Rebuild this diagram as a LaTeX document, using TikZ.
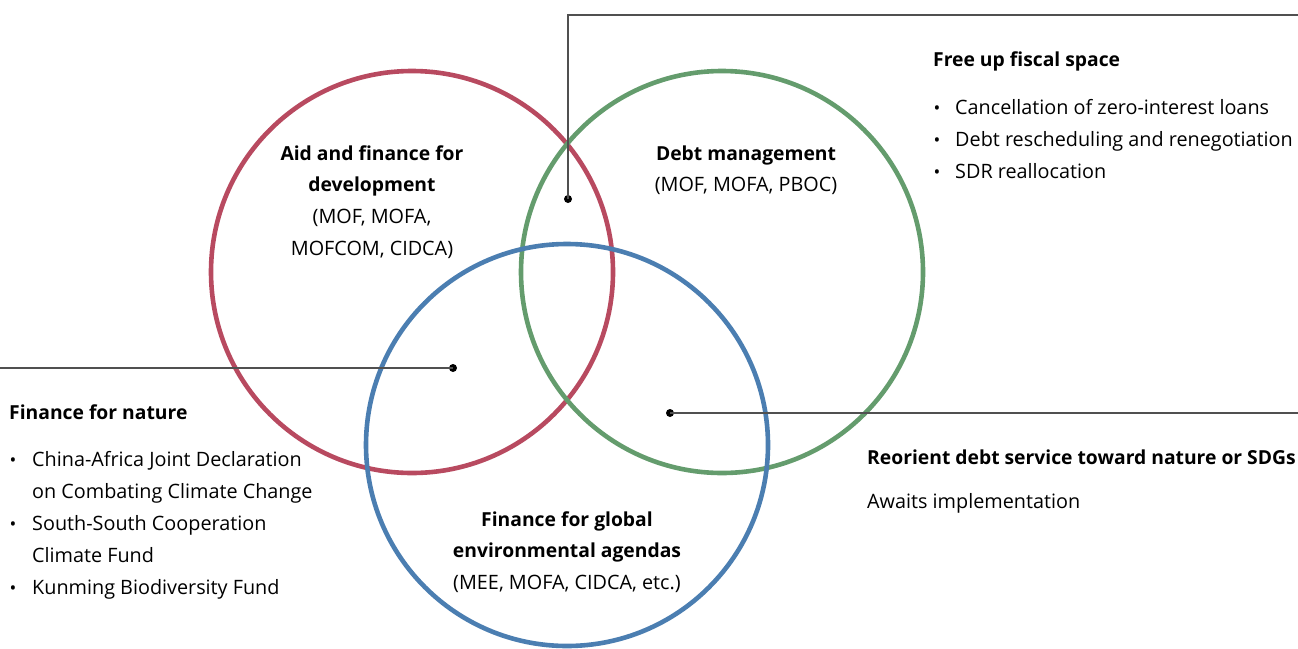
\documentclass[tikz,border=0pt]{standalone}
\usepackage{fontspec}
\setmainfont{Open Sans}[Ligatures=NoCommon]
\definecolor{cred}{HTML}{B84A60}
\definecolor{cgreen}{HTML}{649C6D}
\definecolor{cblue}{HTML}{4B7EB1}
\definecolor{clead}{HTML}{505050}
\begin{document}
\begin{tikzpicture}[x=1pt,y=-1pt]
\tikzset{
  ring/.style={circle, draw, line width=4.6pt, minimum size=402pt, inner sep=0pt},
  lead/.style={draw=clead, line width=1.3pt},
  dotn/.style={circle, fill=black, inner sep=0pt, minimum size=8pt},
  ttl/.style={font=\fontsize{19.3}{22}\selectfont\bfseries, inner sep=0pt, anchor=base west},
  txt/.style={font=\fontsize{19.8}{22}\selectfont, inner sep=0pt, anchor=base west},
  cttl/.style={font=\fontsize{19.3}{22}\selectfont\bfseries, inner sep=0pt, anchor=base},
  ctxt/.style={font=\fontsize{19.8}{22}\selectfont, inner sep=0pt, anchor=base},
  bul/.style={font=\fontsize{18}{20}\selectfont, inner sep=0pt, anchor=base}
}
\useasboundingbox (0,0) rectangle (1298,648);
% circles
\node[ring, draw=cred] (red) at (412,272) {};
\node[ring, draw=cgreen] (green) at (722,272) {};
\node[ring, draw=cblue] (blue) at (567,445) {};
% leader lines
\node[dotn] (d1) at (568,199) {};
\coordinate (c1) at (568,15);
\coordinate (c1e) at (1298,15);
\draw[lead] (d1.center) -- (c1) -- (c1e);
\node[dotn] (d2) at (453,368) {};
\coordinate (c2) at (0,368);
\draw[lead] (d2.center) -- (c2);
\node[dotn] (d3) at (670,413) {};
\coordinate (c3) at (1298,413);
\draw[lead] (d3.center) -- (c3);
% circle texts
\node[cttl] (a1) at (372,160) {Aid and finance for};
\node[cttl] (a2) at (372,191) {development};
\node[ctxt] (a3) at (372,223) {(MOF, MOFA,};
\node[ctxt] (a4) at (372,255) {MOFCOM, CIDCA)};
\node[cttl] (b1) at (746,160) {Debt management};
\node[ctxt] (b2) at (746,191) {(MOF, MOFA, PBOC)};
\node[cttl] (g1) at (567,526) {Finance for global};
\node[cttl] (g2) at (567,557) {environmental agendas};
\node[ctxt] (g3) at (567,589) {(MEE, MOFA, CIDCA, etc.)};
% top right
\node[ttl] (f0) at (933,66) {Free up fiscal space};
\node[bul] (fb1) at (937,114) {•};
\node[txt] (f1) at (955,114) {Cancellation of zero-interest loans};
\node[bul] (fb2) at (937,146) {•};
\node[txt] (f2) at (955,146) {Debt rescheduling and renegotiation};
\node[bul] (fb3) at (937,178) {•};
\node[txt] (f3) at (955,178) {SDR reallocation};
% left
\node[ttl] (n0) at (9,419) {Finance for nature};
\node[bul] (nb1) at (13,466) {•};
\node[txt] (n1) at (32,466) {China-Africa Joint Declaration};
\node[txt] (n2) at (32,498) {on Combating Climate Change};
\node[bul] (nb2) at (13,530) {•};
\node[txt] (n3) at (32,530) {South-South Cooperation};
\node[txt] (n4) at (32,562) {Climate Fund};
\node[bul] (nb3) at (13,594) {•};
\node[txt] (n5) at (32,594) {Kunming Biodiversity Fund};
% right
\node[ttl] (r0) at (867,464) {Reorient debt service toward nature or SDGs};
\node[txt] (r1) at (867,508) {Awaits implementation};
\end{tikzpicture}
\end{document}
